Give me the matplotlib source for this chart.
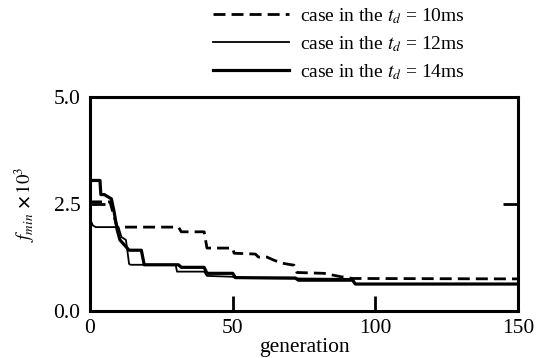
import matplotlib
matplotlib.use('Agg')
import matplotlib.pyplot as plt

plt.rcParams['font.family'] = ['Liberation Serif', 'DejaVu Serif']
plt.rcParams['mathtext.fontset'] = 'stix'

# values (generation, f_min x 10^3)
gen_10 = [0, 7, 9.5, 31, 32, 40, 41, 50, 50.5, 58, 59, 62, 64, 67, 71.5, 72.5, 82, 88, 92, 150]
fmin_10 = [2.55, 2.55, 1.96, 1.96, 1.85, 1.85, 1.47, 1.47, 1.35, 1.33, 1.26, 1.26, 1.2, 1.12, 1.07, 0.9,
           0.88, 0.8, 0.76, 0.75]

gen_12 = [0, 1, 2, 10, 11, 12.6, 13.7, 14.2, 30, 30.5, 40, 41, 50, 51, 92, 93, 150]
fmin_12 = [2.15, 2.0, 1.96, 1.96, 1.73, 1.66, 1.1, 1.08, 1.08, 0.92, 0.92, 0.82, 0.8, 0.77, 0.75, 0.63, 0.63]

gen_14 = [0, 3.5, 3.8, 5, 7.5, 8.5, 9.5, 10.5, 13.7, 18, 19, 31, 32, 40, 41, 50, 51, 72, 73, 92, 93, 150]
fmin_14 = [3.05, 3.05, 2.72, 2.72, 2.62, 2.3, 1.9, 1.66, 1.42, 1.42, 1.08, 1.08, 1.02, 1.02, 0.88, 0.88,
           0.78, 0.77, 0.72, 0.72, 0.63, 0.63]

labels = [r'case in the $t_d$ = 10ms', r'case in the $t_d$ = 12ms', r'case in the $t_d$ = 14ms']

fig = plt.figure(figsize=(5.42, 3.58), dpi=100)
ax = fig.add_axes([90 / 542, 47 / 358, 428 / 542, 214 / 358])

l1, = ax.plot(gen_10, fmin_10, color='black', lw=2.0, ls=(0, (4.3, 2.2)))
l2, = ax.plot(gen_12, fmin_12, color='black', lw=1.3)
l3, = ax.plot(gen_14, fmin_14, color='black', lw=2.3)

ax.set_xlim(0, 150)
ax.set_ylim(0, 5)
ax.set_xticks([0, 50, 100, 150])
ax.set_yticks([0, 2.5, 5])
ax.set_yticklabels(['0.0', '2.5', '5.0'])
ax.tick_params(axis='x', direction='in', length=11, width=2, labelsize=15.5, pad=6)
ax.tick_params(axis='y', direction='in', length=11, width=2, labelsize=15.5, pad=7, right=True)
for s in ax.spines.values():
    s.set_linewidth(2.2)

ax.set_xlabel('generation', fontsize=15.5, labelpad=0)
ax.set_ylabel(r'$f_{min}$ $\mathbf{\times}\,10^3$', fontsize=13.5, labelpad=12)

leg = ax.legend([l1, l2, l3], labels, loc='upper left', bbox_to_anchor=(203 / 542, 1.01),
                bbox_transform=fig.transFigure, frameon=False, fontsize=14,
                handlelength=3.9, handletextpad=0.6, labelspacing=0.42, borderaxespad=0.1)

fig.savefig('out.png', dpi=100)
